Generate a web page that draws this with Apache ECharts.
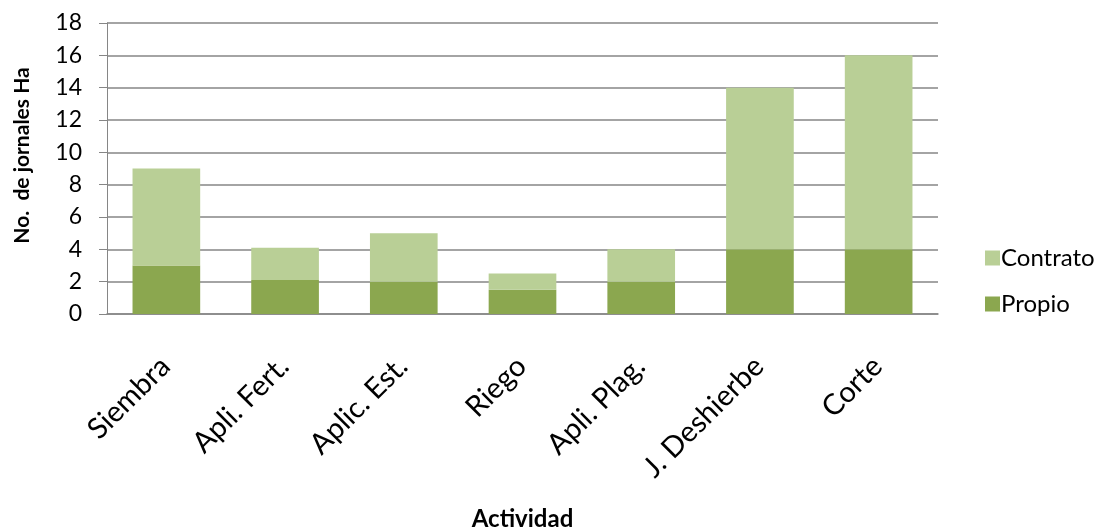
<!DOCTYPE html>
<html>
<head>
<meta charset="utf-8">
<script src="https://cdn.jsdelivr.net/npm/echarts@6/dist/echarts.min.js"></script>
<style>
html,body{margin:0;padding:0;background:#fff;}
#chart{width:1099px;height:531px;}
</style>
</head>
<body>
<div id="chart"></div>
<script>
// Jornales por hectárea según actividad
const categories = ['Siembra', 'Apli. Fert.', 'Aplic. Est.', 'Riego', 'Apli. Plag.', 'J. Deshierbe', 'Corte'];
const propio = [3, 2.1, 2, 1.5, 2, 4, 4];
const contrato = [6, 2, 3, 1, 2, 10, 12];
const yTicks = { min: 0, max: 18, interval: 2 };

const font = 'Lato, "Open Sans", sans-serif';
const chart = echarts.init(document.getElementById('chart'));
chart.setOption({
  animation: false,
  textStyle: { fontFamily: font },
  grid: { left: 107, right: 161, top: 23, bottom: 217, containLabel: false, outerBoundsMode: 'none' },
  legend: {
    orient: 'vertical',
    left: 980,
    top: 241,
    itemWidth: 15,
    itemHeight: 15,
    itemGap: 22,
    icon: 'rect',
    data: ['Contrato', 'Propio'],
    textStyle: { fontSize: 24, color: '#000', fontFamily: font, padding: [0, 0, 0, -4] }
  },
  xAxis: {
    type: 'category',
    data: categories,
    name: 'Actividad',
    nameLocation: 'middle',
    nameGap: 193,
    nameTextStyle: { fontSize: 24, fontWeight: 'bold', color: '#000', fontFamily: font },
    axisLine: { lineStyle: { color: '#868686', width: 1.5 } },
    axisTick: { show: false },
    axisLabel: {
      rotate: 45, fontSize: 29, color: '#000', margin: 26, fontFamily: font,
      align: 'right', verticalAlign: 'top', padding: [0, 16, 0, 0]
    }
  },
  yAxis: {
    type: 'value',
    min: yTicks.min,
    max: yTicks.max,
    interval: yTicks.interval,
    name: 'No.  de jornales Ha',
    nameLocation: 'middle',
    nameGap: 74,
    nameTextStyle: { fontSize: 21, fontWeight: 'bold', color: '#000', fontFamily: font, padding: [0, 0, 0, 26] },
    axisLine: { show: true, lineStyle: { color: '#868686', width: 1 } },
    axisTick: { show: true, length: 8, lineStyle: { color: '#868686' } },
    axisLabel: { fontSize: 23, color: '#000', margin: 25, fontFamily: font },
    splitLine: { lineStyle: { color: '#868686', width: 1.5 } }
  },
  series: [
    {
      name: 'Propio',
      type: 'bar',
      stack: 'total',
      barWidth: '57%',
      data: propio,
      itemStyle: { color: '#8BA74F' }
    },
    {
      name: 'Contrato',
      type: 'bar',
      stack: 'total',
      barWidth: '57%',
      data: contrato,
      itemStyle: { color: '#B9CF96' }
    }
  ]
});
</script>
</body>
</html>
